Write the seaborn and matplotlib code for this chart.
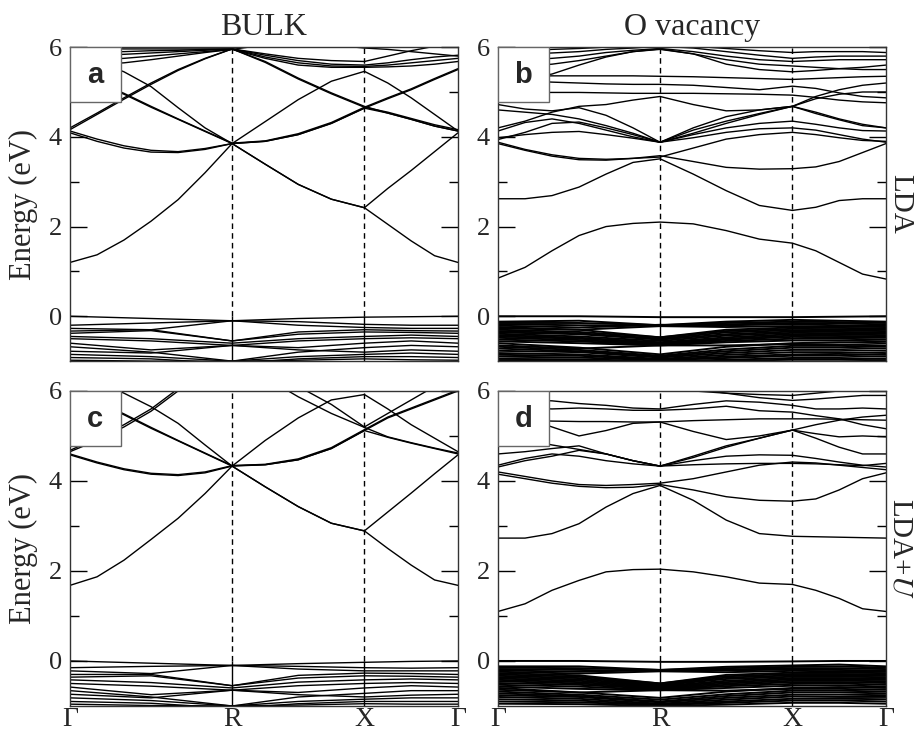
import numpy as np
import pandas as pd
import seaborn as sns
import matplotlib.pyplot as plt
from matplotlib.patches import Rectangle

sns.set_theme(style="ticks")
plt.rcParams["font.family"] = ["Liberation Serif", "DejaVu Serif"]
plt.rcParams["mathtext.fontset"] = "stix"

# k-path  G - R - X - G  (path lengths sqrt3, sqrt2, 1)
k_labels = ["Γ", "R", "X", "Γ"]
k_nodes = [0.0, 1.732, 3.146, 4.146]
k_cb = [0.0, 0.289, 0.577, 0.866, 1.155, 1.443, 1.732,
        2.086, 2.439, 2.793, 3.146, 3.396, 3.646, 3.896, 4.146]
k_vb = [0.0, 0.866, 1.732, 2.439, 3.146, 3.646, 4.146]

# ---- panel a : bulk, LDA
cb_a = [
    [1.2, 1.37, 1.7, 2.12, 2.6, 3.2, 3.85, 3.39, 2.94, 2.61, 2.42, 2.05, 1.68, 1.35, 1.2],
    [4.09, 3.9, 3.75, 3.66, 3.65, 3.72, 3.85, 3.39, 2.94, 2.61, 2.42, 2.85, 3.25, 3.67, 4.09],
    [4.13, 3.95, 3.8, 3.7, 3.67, 3.74, 3.85, 3.9, 4.05, 4.3, 4.64, 4.85, 5.05, 5.28, 5.5],
    [4.2, 4.53, 4.87, 5.2, 5.5, 5.75, 5.96, 5.68, 5.31, 4.98, 4.68, 4.53, 4.39, 4.24, 4.13],
    [5.5, 5.19, 4.95, 4.66, 4.39, 4.12, 3.85, 3.9, 4.05, 4.3, 4.64, 4.53, 4.39, 4.24, 4.13],
    [5.9, 5.68, 5.45, 5.12, 4.65, 4.2, 3.85, 4.34, 4.83, 5.24, 5.46, 5.2, 4.87, 4.5, 4.13],
    [5.52, 5.22, 4.97, 4.68, 4.4, 4.13, 3.86, 3.91, 4.07, 4.32, 4.66, 4.87, 5.07, 5.3, 5.52],
    [4.16, 4.5, 4.84, 5.17, 5.48, 5.74, 5.96, 5.66, 5.29, 4.96, 4.66, 4.55, 4.41, 4.27, 4.16],
    [5.98, 5.97, 5.96, 5.96, 5.96, 5.96, 5.96, 5.85, 5.75, 5.7, 5.68, 5.8, 5.92, 6.02, 6.1],
    [5.9, 5.9, 5.9, 5.92, 5.93, 5.95, 5.96, 5.82, 5.7, 5.62, 5.6, 5.65, 5.72, 5.78, 5.82],
    [5.8, 5.82, 5.84, 5.87, 5.9, 5.93, 5.96, 5.78, 5.65, 5.58, 5.57, 5.6, 5.65, 5.7, 5.75],
    [5.7, 5.72, 5.75, 5.8, 5.85, 5.9, 5.95, 5.75, 5.6, 5.55, 5.55, 5.56, 5.58, 5.62, 5.68],
    [5.62, 5.62, 5.65, 5.72, 5.8, 5.88, 5.95, 6.05, 6.1, 6.05, 5.98, 5.95, 5.9, 5.85, 5.8],
]
vb_a = [
    [0.0, -0.05, -0.1, -0.05, -0.02, -0.01, 0.0],
    [-0.2, -0.15, -0.1, -0.12, -0.18, -0.2, -0.2],
    [-0.27, -0.3, -0.1, -0.2, -0.25, -0.27, -0.27],
    [-0.33, -0.3, -0.55, -0.35, -0.3, -0.32, -0.33],
    [-0.38, -0.32, -0.55, -0.4, -0.35, -0.36, -0.38],
    [-0.45, -0.5, -0.6, -0.5, -0.45, -0.42, -0.45],
    [-0.5, -0.55, -0.65, -0.55, -0.5, -0.48, -0.5],
    [-0.6, -0.75, -0.65, -0.7, -0.6, -0.55, -0.6],
    [-0.68, -0.8, -1.0, -0.8, -0.7, -0.65, -0.68],
    [-0.78, -0.82, -0.65, -0.75, -0.8, -0.75, -0.78],
    [-0.85, -0.9, -1.0, -0.9, -0.85, -0.82, -0.85],
    [-0.92, -0.95, -1.05, -0.95, -0.9, -0.9, -0.92],
    [-0.98, -1.0, -1.0, -0.98, -0.95, -0.97, -0.98],
]

# ---- panel b : O vacancy, LDA
cb_b = [
    [0.85, 1.09, 1.46, 1.8, 2.0, 2.07, 2.1, 2.06, 1.91, 1.72, 1.63, 1.46, 1.2, 0.94, 0.83],
    [2.62, 2.62, 2.69, 2.88, 3.17, 3.43, 3.51, 3.17, 2.8, 2.47, 2.36, 2.43, 2.58, 2.62, 2.62],
    [3.85, 3.7, 3.57, 3.49, 3.48, 3.52, 3.58, 3.45, 3.32, 3.28, 3.29, 3.33, 3.45, 3.65, 3.85],
    [3.88, 3.72, 3.6, 3.52, 3.5, 3.52, 3.55, 3.75, 3.95, 4.05, 4.1, 4.05, 3.98, 3.92, 3.9],
    [3.94, 4.1, 4.3, 4.33, 4.2, 4.05, 3.88, 4.05, 4.2, 4.3, 4.35, 4.28, 4.2, 4.14, 4.13],
    [4.13, 4.32, 4.4, 4.3, 4.15, 4.0, 3.88, 4.2, 4.45, 4.6, 4.68, 4.52, 4.38, 4.25, 4.2],
    [3.98, 4.05, 4.1, 4.12, 4.05, 3.97, 3.88, 3.98, 4.1, 4.18, 4.2, 4.15, 4.05, 3.95, 3.88],
    [4.72, 4.62, 4.58, 4.65, 4.48, 4.2, 3.88, 4.15, 4.35, 4.52, 4.68, 4.85, 4.95, 5.0, 5.0],
    [4.2, 4.35, 4.55, 4.68, 4.72, 4.82, 4.9, 4.72, 4.58, 4.6, 4.68, 4.55, 4.4, 4.28, 4.2],
    [4.98, 4.99, 4.99, 4.99, 4.98, 4.97, 4.97, 4.97, 4.96, 4.95, 4.93, 4.88, 4.82, 4.78, 4.76],
    [5.25, 5.25, 5.22, 5.2, 5.18, 5.17, 5.17, 5.15, 5.1, 5.05, 5.13, 5.08, 4.98, 4.9, 4.87],
    [5.35, 5.35, 5.36, 5.36, 5.36, 5.36, 5.35, 5.34, 5.32, 5.3, 5.28, 5.3, 5.32, 5.34, 5.35],
    [5.45, 5.3, 5.4, 5.6, 5.78, 5.9, 5.96, 5.85, 5.62, 5.5, 5.45, 5.48, 5.52, 5.55, 5.6],
    [5.55, 5.58, 5.62, 5.7, 5.8, 5.9, 5.95, 5.85, 5.72, 5.62, 5.58, 5.55, 5.52, 5.5, 5.5],
    [5.7, 5.72, 5.75, 5.8, 5.88, 5.93, 5.97, 5.9, 5.8, 5.72, 5.68, 5.7, 5.72, 5.72, 5.72],
    [5.82, 5.84, 5.87, 5.9, 5.95, 5.98, 6.02, 5.98, 5.9, 5.82, 5.75, 5.78, 5.8, 5.8, 5.8],
    [5.9, 5.92, 5.95, 5.97, 6.0, 6.02, 6.05, 6.02, 5.97, 5.92, 5.88, 5.9, 5.9, 5.9, 5.88],
    [4.6, 4.55, 4.5, 4.4, 4.25, 4.08, 3.88, 4.08, 4.3, 4.5, 4.68, 4.9, 5.05, 5.15, 5.2],
]
vb_b = [
    [0.0, 0.0, -0.02, -0.02, -0.02, -0.01, 0.0],
    [-0.12, -0.1, -0.2, -0.12, -0.08, -0.1, -0.12],
    [-0.15, -0.15, -0.2, -0.15, -0.12, -0.13, -0.15],
    [-0.18, -0.2, -0.21, -0.18, -0.15, -0.16, -0.18],
    [-0.21, -0.25, -0.19, -0.2, -0.18, -0.2, -0.21],
    [-0.24, -0.3, -0.22, -0.24, -0.22, -0.23, -0.24],
    [-0.27, -0.3, -0.47, -0.3, -0.25, -0.26, -0.27],
    [-0.3, -0.35, -0.47, -0.33, -0.28, -0.29, -0.3],
    [-0.33, -0.38, -0.5, -0.36, -0.31, -0.32, -0.33],
    [-0.36, -0.4, -0.52, -0.4, -0.34, -0.35, -0.36],
    [-0.39, -0.45, -0.55, -0.43, -0.37, -0.38, -0.39],
    [-0.42, -0.48, -0.58, -0.47, -0.4, -0.41, -0.42],
    [-0.45, -0.5, -0.6, -0.5, -0.43, -0.44, -0.45],
    [-0.48, -0.53, -0.62, -0.52, -0.46, -0.47, -0.48],
    [-0.52, -0.56, -0.64, -0.55, -0.5, -0.5, -0.52],
    [-0.56, -0.6, -0.65, -0.58, -0.54, -0.54, -0.56],
    [-0.6, -0.7, -0.85, -0.68, -0.6, -0.58, -0.6],
    [-0.65, -0.72, -0.65, -0.65, -0.62, -0.63, -0.65],
    [-0.68, -0.75, -0.88, -0.74, -0.66, -0.66, -0.68],
    [-0.72, -0.78, -0.9, -0.78, -0.7, -0.7, -0.72],
    [-0.77, -0.8, -0.92, -0.82, -0.75, -0.75, -0.77],
    [-0.82, -0.85, -0.95, -0.86, -0.8, -0.8, -0.82],
    [-0.86, -0.88, -0.97, -0.9, -0.85, -0.84, -0.86],
    [-0.9, -0.92, -0.98, -0.93, -0.88, -0.88, -0.9],
    [-0.95, -0.96, -1.0, -0.97, -0.93, -0.93, -0.95],
    [-0.98, -0.99, -1.02, -0.99, -0.97, -0.97, -0.98],
]

# ---- panel c : bulk, LDA+U
cb_c = [
    [1.68, 1.87, 2.24, 2.7, 3.17, 3.72, 4.33, 3.87, 3.43, 3.06, 2.89, 2.5, 2.13, 1.8, 1.68],
    [4.58, 4.4, 4.25, 4.15, 4.12, 4.18, 4.33, 3.87, 3.43, 3.06, 2.89, 3.31, 3.73, 4.16, 4.58],
    [4.6, 4.42, 4.27, 4.17, 4.14, 4.2, 4.34, 4.36, 4.47, 4.72, 5.12, 5.4, 5.6, 5.8, 6.0],
    [4.65, 4.9, 5.2, 5.55, 6.0, 6.4, 6.7, 6.3, 5.87, 5.5, 5.19, 4.98, 4.85, 4.73, 4.62],
    [6.0, 5.74, 5.47, 5.17, 4.89, 4.61, 4.33, 4.36, 4.47, 4.72, 5.12, 4.97, 4.84, 4.72, 4.6],
    [6.03, 5.76, 5.49, 5.19, 4.9, 4.62, 4.34, 4.37, 4.49, 4.74, 5.14, 5.42, 5.62, 5.82, 6.02],
    [6.5, 6.2, 5.95, 5.65, 5.28, 4.8, 4.33, 4.9, 5.4, 5.8, 5.92, 5.6, 5.25, 4.95, 4.65],
    [4.68, 4.95, 5.25, 5.6, 6.05, 6.45, 6.75, 6.5, 6.1, 5.7, 5.2, 5.5, 5.8, 6.1, 6.4],
]
vb_c = [
    [0.0, -0.05, -0.1, -0.06, -0.03, -0.01, 0.0],
    [-0.15, -0.12, -0.1, -0.12, -0.15, -0.16, -0.15],
    [-0.22, -0.28, -0.1, -0.18, -0.22, -0.22, -0.22],
    [-0.3, -0.3, -0.55, -0.32, -0.27, -0.28, -0.3],
    [-0.36, -0.33, -0.55, -0.38, -0.33, -0.34, -0.36],
    [-0.42, -0.48, -0.6, -0.47, -0.42, -0.4, -0.42],
    [-0.5, -0.56, -0.65, -0.55, -0.5, -0.48, -0.5],
    [-0.58, -0.75, -0.65, -0.7, -0.6, -0.55, -0.58],
    [-0.66, -0.8, -1.0, -0.8, -0.72, -0.66, -0.66],
    [-0.74, -0.82, -0.65, -0.75, -0.8, -0.76, -0.74],
    [-0.82, -0.88, -1.0, -0.9, -0.85, -0.82, -0.82],
    [-0.9, -0.94, -1.05, -0.95, -0.9, -0.9, -0.9],
    [-0.96, -0.99, -1.0, -0.98, -0.95, -0.96, -0.96],
]

# ---- panel d : O vacancy, LDA+U
cb_d = [
    [1.1, 1.27, 1.57, 1.79, 1.98, 2.03, 2.04, 1.98, 1.87, 1.73, 1.7, 1.57, 1.39, 1.16, 1.1],
    [2.73, 2.73, 2.83, 3.05, 3.42, 3.72, 3.9, 3.57, 3.13, 2.83, 2.77, 2.76, 2.75, 2.74, 2.73],
    [4.15, 4.05, 3.95, 3.88, 3.85, 3.86, 3.92, 3.8, 3.65, 3.57, 3.55, 3.6, 3.8, 4.05, 4.18],
    [4.2, 4.1, 4.0, 3.92, 3.9, 3.92, 3.95, 4.05, 4.2, 4.35, 4.42, 4.4, 4.35, 4.3, 4.25],
    [4.35, 4.5, 4.6, 4.55, 4.45, 4.38, 4.33, 4.45, 4.55, 4.58, 4.57, 4.5, 4.42, 4.35, 4.31],
    [4.31, 4.45, 4.55, 4.68, 4.6, 4.45, 4.33, 4.55, 4.78, 4.95, 5.13, 4.95, 4.75, 4.6, 4.6],
    [4.6, 4.65, 4.72, 4.78, 4.6, 4.45, 4.33, 4.36, 4.38, 4.39, 4.39, 4.38, 4.36, 4.34, 4.39],
    [5.05, 4.92, 4.8, 4.7, 4.6, 4.45, 4.33, 4.52, 4.75, 4.95, 5.13, 5.25, 5.35, 5.42, 5.46],
    [5.35, 5.4, 5.2, 5.0, 5.12, 5.28, 5.31, 5.1, 4.92, 5.0, 5.13, 5.05, 4.98, 5.0, 4.98],
    [5.35, 5.35, 5.33, 5.32, 5.32, 5.31, 5.31, 5.34, 5.36, 5.38, 5.38, 5.38, 5.37, 5.36, 5.35],
    [5.64, 5.62, 5.6, 5.62, 5.6, 5.57, 5.57, 5.6, 5.66, 5.56, 5.53, 5.45, 5.38, 5.25, 5.16],
    [5.76, 5.8, 5.78, 5.72, 5.68, 5.62, 5.6, 5.7, 5.78, 5.75, 5.68, 5.6, 5.6, 5.62, 5.6],
    [5.8, 5.9, 6.05, 6.2, 6.3, 6.3, 6.2, 6.05, 5.95, 5.85, 5.79, 5.82, 5.86, 5.9, 5.9],
    [6.1, 6.15, 6.2, 6.25, 6.3, 6.2, 6.1, 6.0, 5.95, 5.92, 5.9, 5.95, 6.0, 6.05, 6.1],
]
vb_d = [
    [0.0, 0.0, -0.02, -0.02, -0.01, 0.0, 0.0],
    [-0.12, -0.12, -0.2, -0.13, -0.1, -0.08, -0.12],
    [-0.15, -0.16, -0.2, -0.16, -0.13, -0.12, -0.15],
    [-0.18, -0.2, -0.22, -0.19, -0.16, -0.16, -0.18],
    [-0.21, -0.24, -0.2, -0.21, -0.19, -0.2, -0.21],
    [-0.24, -0.28, -0.23, -0.25, -0.22, -0.23, -0.24],
    [-0.27, -0.32, -0.5, -0.31, -0.26, -0.26, -0.27],
    [-0.3, -0.35, -0.5, -0.34, -0.29, -0.29, -0.3],
    [-0.33, -0.38, -0.52, -0.37, -0.32, -0.32, -0.33],
    [-0.36, -0.41, -0.54, -0.4, -0.35, -0.35, -0.36],
    [-0.39, -0.44, -0.56, -0.44, -0.38, -0.38, -0.39],
    [-0.42, -0.47, -0.58, -0.47, -0.41, -0.41, -0.42],
    [-0.45, -0.5, -0.6, -0.5, -0.44, -0.44, -0.45],
    [-0.49, -0.53, -0.62, -0.53, -0.47, -0.47, -0.49],
    [-0.53, -0.57, -0.64, -0.56, -0.51, -0.5, -0.53],
    [-0.57, -0.62, -0.65, -0.6, -0.55, -0.54, -0.57],
    [-0.6, -0.7, -0.82, -0.68, -0.6, -0.58, -0.6],
    [-0.64, -0.7, -0.65, -0.66, -0.62, -0.62, -0.64],
    [-0.68, -0.75, -0.86, -0.74, -0.66, -0.66, -0.68],
    [-0.72, -0.78, -0.9, -0.78, -0.7, -0.7, -0.72],
    [-0.76, -0.8, -0.92, -0.82, -0.75, -0.75, -0.76],
    [-0.8, -0.84, -0.95, -0.86, -0.79, -0.8, -0.8],
    [-0.85, -0.88, -0.97, -0.9, -0.84, -0.84, -0.85],
    [-0.9, -0.92, -0.98, -0.93, -0.88, -0.88, -0.9],
    [-0.95, -0.96, -1.0, -0.97, -0.93, -0.93, -0.95],
]

titles = ["BULK", "O vacancy"]
methods = ["LDA", "LDA+$U$"]
letters = ["a", "b", "c", "d"]


def band_frame(bands, k):
    parts = []
    for i, e in enumerate(bands):
        parts.append(pd.DataFrame({"k": k, "E": e, "band": i}))
    return pd.concat(parts, ignore_index=True)


fig = plt.figure(figsize=(9.2, 7.4), dpi=100)
boxes = [[0.0761, 0.5120, 0.4217, 0.4243], [0.5413, 0.5120, 0.4217, 0.4243],
         [0.0761, 0.0460, 0.4217, 0.4257], [0.5413, 0.0460, 0.4217, 0.4257]]
data = [(cb_a, vb_a), (cb_b, vb_b), (cb_c, vb_c), (cb_d, vb_d)]

for n, (box, (cb, vb)) in enumerate(zip(boxes, data)):
    ax = fig.add_axes(box)
    # conduction bands, then the (denser) valence bands
    sns.lineplot(data=band_frame(cb, k_cb), x="k", y="E", units="band",
                 estimator=None, sort=False, color="black", linewidth=1.0,
                 legend=False, ax=ax)
    sns.lineplot(data=band_frame(vb, k_vb), x="k", y="E", units="band",
                 estimator=None, sort=False, color="black",
                 linewidth=1.0 if n % 2 == 0 else 1.4, legend=False, ax=ax)
    for kx in k_nodes[1:3]:
        ax.vlines(kx, 0, 6, colors="black", linestyles=(0, (4, 3)), linewidth=1.0)
        ax.vlines(kx, -1, 0, colors="black", linewidth=1.0)
    ax.set_xlim(k_nodes[0], k_nodes[-1])
    ax.set_ylim(-1, 6)
    ax.set_yticks([0, 2, 4, 6])
    ax.set_yticks([1, 3, 5], minor=True)
    ax.tick_params(axis="y", which="both", direction="in", left=True, right=True,
                   labelsize=19, pad=6, width=1.0, color="black")
    ax.tick_params(axis="y", which="major", length=12)
    ax.tick_params(axis="y", which="minor", length=6.5)
    ax.set_xticks(k_nodes)
    if n >= 2:
        ax.set_xticklabels(k_labels)
    else:
        ax.set_xticklabels([])
    ax.tick_params(axis="x", length=0, labelsize=20, pad=1)
    ax.set_xlabel("")
    ax.set_ylabel("")
    for s in ax.spines.values():
        s.set_color("#333333")
        s.set_linewidth(1.0)
    ax.add_patch(Rectangle((0, 0.825), 0.131, 0.175, transform=ax.transAxes,
                           facecolor="white", edgecolor="#666666", linewidth=1.0,
                           zorder=5))
    ax.text(0.0655, 0.9125, letters[n], transform=ax.transAxes, ha="center",
            va="center", fontsize=21, fontweight="bold", family="Liberation Sans",
            zorder=6)
    cy = box[1] + box[3] / 2
    if n % 2 == 0:
        fig.text(0.025, cy, "Energy (eV)", rotation=90, ha="center", va="center",
                 fontsize=22)
    else:
        fig.text(0.979, cy, methods[n // 2], rotation=270, ha="center", va="center",
                 fontsize=21)
    if n < 2:
        fig.text(box[0] + box[2] / 2, 0.963, titles[n], ha="center", va="center",
                 fontsize=23)

fig.savefig("out.png", dpi=100)
